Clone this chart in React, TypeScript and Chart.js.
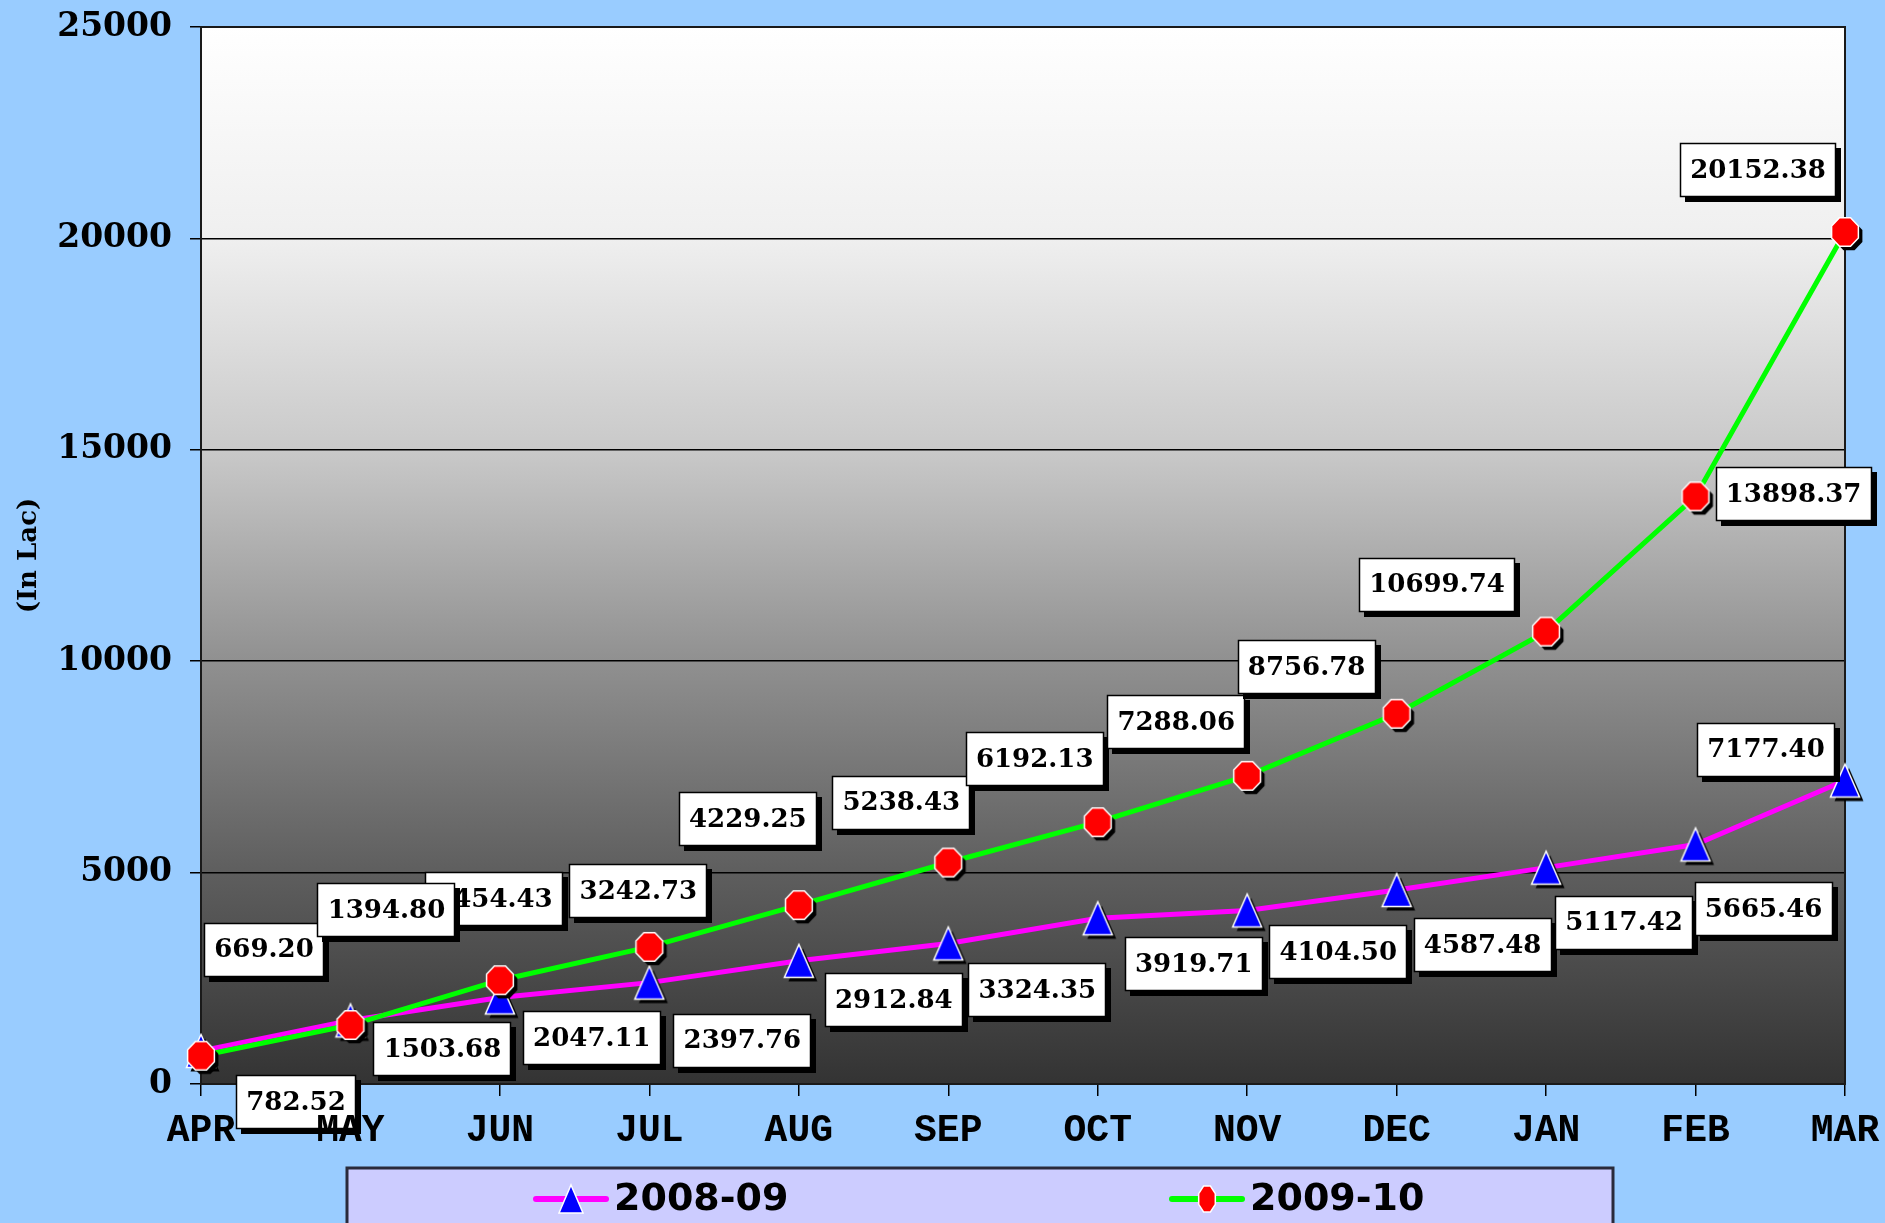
import React, { useEffect, useRef } from 'react';
import { Chart, registerables } from 'chart.js';

Chart.register(...registerables);

// ---------- data ----------
const months = ['APR', 'MAY', 'JUN', 'JUL', 'AUG', 'SEP', 'OCT', 'NOV', 'DEC', 'JAN', 'FEB', 'MAR'];
const series2008Label = '2008-09';
const series2009Label = '2009-10';
const values2008 = [782.52, 1503.68, 2047.11, 2397.76, 2912.84, 3324.35, 3919.71, 4104.5, 4587.48, 5117.42, 5665.46, 7177.4];
const values2009 = [669.2, 1394.8, 2454.43, 3242.73, 4229.25, 5238.43, 6192.13, 7288.06, 8756.78, 10699.74, 13898.37, 20152.38];
const yTickValues = [0, 5000, 10000, 15000, 20000, 25000];
const yAxisTitle = '(In Lac)';

// ---------- label placement (pixel offsets of each label box centre from its point) ----------
const offsets2008: number[][] = [[95, 51], [92, 29], [92, 41], [93, 58], [95, 39], [89, 47], [96, 46], [91, 42], [86, 55], [78, 55], [68, 65], [-79, -31]];
const offsets2009: number[][] = [[63, -106], [36, -115], [-6, -81], [-11, -56], [-51, -86], [-47, -60], [-63, -63], [-71, -54], [-90, -47], [-109, -47], [98, -2], [-87, -62]];
const drawOrder2009 = [2, 0, 1, 3, 4, 5, 6, 7, 8, 9, 10, 11];

const BG = '#99CCFF';

function octagonPath(g: CanvasRenderingContext2D, cx: number, cy: number, rx: number, ry: number) {
  g.beginPath();
  for (let i = 0; i < 8; i++) {
    const a = Math.PI / 8 + (i * Math.PI) / 4;
    const x = cx + Math.cos(a) * rx;
    const y = cy + Math.sin(a) * ry;
    if (i === 0) g.moveTo(x, y);
    else g.lineTo(x, y);
  }
  g.closePath();
}

function trianglePath(g: CanvasRenderingContext2D, cx: number, cy: number, hw: number, hh: number) {
  g.beginPath();
  g.moveTo(cx, cy - hh);
  g.lineTo(cx + hw, cy + hh);
  g.lineTo(cx - hw, cy + hh);
  g.closePath();
}

function makeCircleMarker(): HTMLCanvasElement {
  const c = document.createElement('canvas');
  c.width = 46;
  c.height = 46;
  const g = c.getContext('2d')!;
  octagonPath(g, 27, 27, 14.5, 15.5);
  g.fillStyle = '#000';
  g.fill();
  octagonPath(g, 23, 23, 14.5, 15.5);
  g.fillStyle = '#FF0000';
  g.fill();
  g.lineWidth = 1.5;
  g.strokeStyle = '#FFFFFF';
  g.stroke();
  return c;
}

function makeTriangleMarker(): HTMLCanvasElement {
  const c = document.createElement('canvas');
  c.width = 46;
  c.height = 46;
  const g = c.getContext('2d')!;
  trianglePath(g, 27, 27, 14.5, 16.5);
  g.fillStyle = '#000';
  g.fill();
  trianglePath(g, 23, 23, 14.5, 16.5);
  g.fillStyle = '#0000FF';
  g.fill();
  g.lineWidth = 1.5;
  g.strokeStyle = '#FFFFFF';
  g.stroke();
  return c;
}

const plotBackgroundPlugin = {
  id: 'plotBackground',
  beforeDraw(chart: any) {
    const { ctx, chartArea: a } = chart;
    const grad = ctx.createLinearGradient(0, a.top, 0, a.bottom);
    grad.addColorStop(0, '#ffffff');
    grad.addColorStop(0.2, '#efefef');
    grad.addColorStop(0.4, '#c9c9c9');
    grad.addColorStop(0.6, '#909090');
    grad.addColorStop(0.8, '#5e5e5e');
    grad.addColorStop(1, '#333333');
    ctx.save();
    ctx.fillStyle = grad;
    ctx.fillRect(a.left, a.top, a.right - a.left, a.bottom - a.top);
    ctx.restore();
  },
  beforeDatasetsDraw(chart: any) {
    const { ctx, chartArea: a } = chart;
    ctx.save();
    ctx.strokeStyle = '#1a1a1a';
    ctx.lineWidth = 2;
    ctx.strokeRect(a.left, a.top, a.right - a.left, a.bottom - a.top);
    ctx.restore();
  },
};

function drawLabelBox(ctx: CanvasRenderingContext2D, text: string, cx: number, cy: number) {
  ctx.font = 'bold 26px "DejaVu Serif"';
  const tw = ctx.measureText(text).width;
  const w = Math.round(tw + 20);
  const h = 54;
  const x = Math.round(cx - w / 2);
  const y = Math.round(cy - h / 2);
  ctx.fillStyle = '#000';
  ctx.fillRect(x + 5, y + 5, w, h);
  ctx.fillStyle = '#fff';
  ctx.fillRect(x, y, w, h);
  ctx.strokeStyle = '#000';
  ctx.lineWidth = 1.5;
  ctx.strokeRect(x + 0.5, y + 0.5, w - 1, h - 1);
  ctx.fillStyle = '#000';
  ctx.textAlign = 'center';
  ctx.textBaseline = 'middle';
  ctx.fillText(text, cx, cy + 1);
}

const dataLabelPlugin = {
  id: 'dataLabels',
  afterDatasetsDraw(chart: any) {
    const ctx = chart.ctx;
    ctx.save();
    const m0 = chart.getDatasetMeta(0);
    values2008.forEach((v, i) => {
      const p = m0.data[i];
      drawLabelBox(ctx, v.toFixed(2), p.x + offsets2008[i][0], p.y + offsets2008[i][1]);
    });
    const m1 = chart.getDatasetMeta(1);
    drawOrder2009.forEach((i) => {
      const p = m1.data[i];
      drawLabelBox(ctx, values2009[i].toFixed(2), p.x + offsets2009[i][0], p.y + offsets2009[i][1]);
    });
    ctx.restore();
  },
};

const legendPlugin = {
  id: 'boxLegend',
  afterDraw(chart: any) {
    const ctx = chart.ctx;
    const top = 1168;
    const left = 347;
    const right = 1613;
    ctx.save();
    ctx.fillStyle = '#CCCCFF';
    ctx.fillRect(left, top, right - left, 80);
    ctx.strokeStyle = '#2a2a3a';
    ctx.lineWidth = 3;
    ctx.beginPath();
    ctx.moveTo(left, top + 80);
    ctx.lineTo(left, top);
    ctx.lineTo(right, top);
    ctx.lineTo(right, top + 80);
    ctx.stroke();

    const cy = 1199;
    const items = [
      { ds: chart.data.datasets[0], lineX: 536, kind: 'tri' },
      { ds: chart.data.datasets[1], lineX: 1172, kind: 'oct' },
    ];
    items.forEach((it) => {
      ctx.strokeStyle = it.ds.borderColor;
      ctx.lineWidth = 6;
      ctx.lineCap = 'round';
      ctx.beginPath();
      ctx.moveTo(it.lineX, cy);
      ctx.lineTo(it.lineX + 70, cy);
      ctx.stroke();
      const mx = it.lineX + 35;
      if (it.kind === 'tri') {
        trianglePath(ctx, mx, cy, 12, 14);
        ctx.fillStyle = '#0000FF';
      } else {
        octagonPath(ctx, mx, cy, 9, 14);
        ctx.fillStyle = '#FF0000';
      }
      ctx.fill();
      ctx.lineWidth = 1.5;
      ctx.strokeStyle = '#fff';
      ctx.stroke();
      ctx.fillStyle = '#000';
      ctx.font = 'bold 38px "DejaVu Sans"';
      ctx.textAlign = 'left';
      ctx.textBaseline = 'middle';
      ctx.fillText(it.ds.label, it.lineX + 78, cy + 1);
    });
    ctx.restore();
  },
};

export default function App() {
  const ref = useRef<HTMLCanvasElement | null>(null);

  useEffect(() => {
    const canvas = ref.current;
    if (!canvas) return;
    const tri = makeTriangleMarker();
    const circ = makeCircleMarker();
    const chart = new Chart(canvas, {
      type: 'line',
      data: {
        labels: months,
        datasets: [
          {
            label: series2008Label,
            data: values2008,
            borderColor: '#FF00FF',
            backgroundColor: '#0000FF',
            borderWidth: 5,
            pointStyle: tri as any,
            pointRadius: 16,
            pointHoverRadius: 16,
            tension: 0,
            fill: false,
            clip: false as any,
            order: 1,
          },
          {
            label: series2009Label,
            data: values2009,
            borderColor: '#00FF00',
            backgroundColor: '#FF0000',
            borderWidth: 5,
            pointStyle: circ as any,
            pointRadius: 16,
            pointHoverRadius: 16,
            tension: 0,
            fill: false,
            clip: false as any,
            order: 0,
          },
        ],
      },
      options: {
        responsive: false,
        animation: false,
        events: [],
        layout: { padding: { left: 0, top: 27, right: 40, bottom: 0 } },
        plugins: {
          legend: { display: false },
          tooltip: { enabled: false },
          title: { display: false },
        },
        scales: {
          x: {
            type: 'category',
            offset: false,
            grid: {
              drawOnChartArea: false,
              drawTicks: true,
              tickLength: 12,
              color: '#000',
              lineWidth: 1.5,
            },
            border: { display: true, color: '#000', width: 2 },
            ticks: {
              z: 1,
              autoSkip: false,
              maxRotation: 0,
              minRotation: 0,
              padding: 13,
              color: '#000',
              font: { family: '"Liberation Mono"', size: 38, weight: 'bold' },
            },
            afterFit: (scale: any) => {
              scale.height = 139;
              scale.paddingLeft = 0;
              scale.paddingRight = 0;
            },
          },
          y: {
            min: 0,
            max: 25000,
            afterBuildTicks: (scale: any) => {
              scale.ticks = yTickValues.map((v) => ({ value: v }));
            },
            grid: {
              color: '#000',
              lineWidth: 1.5,
              drawTicks: true,
              tickLength: 11,
            },
            border: { display: true, color: '#000', width: 2 },
            ticks: {
              padding: 18,
              color: '#000',
              font: { family: '"DejaVu Serif"', size: 33, weight: 'bold' },
              callback: (v: any) => String(v),
            },
            title: {
              display: true,
              text: yAxisTitle,
              color: '#000',
              font: { family: '"DejaVu Serif"', size: 26, weight: 'bold' },
              padding: { top: 14, bottom: 0 },
            },
            afterFit: (scale: any) => {
              scale.width = 201;
              scale.paddingTop = 0;
              scale.paddingBottom = 0;
            },
          },
        },
      },
      plugins: [plotBackgroundPlugin, dataLabelPlugin, legendPlugin],
    } as any);
    return () => chart.destroy();
  }, []);

  return (
    <div style={{ position: 'fixed', left: 0, top: 0, width: 1885, height: 1223, background: BG, overflow: 'hidden' }}>
      <canvas ref={ref} width={1885} height={1223} style={{ display: 'block', width: 1885, height: 1223 }} />
    </div>
  );
}
